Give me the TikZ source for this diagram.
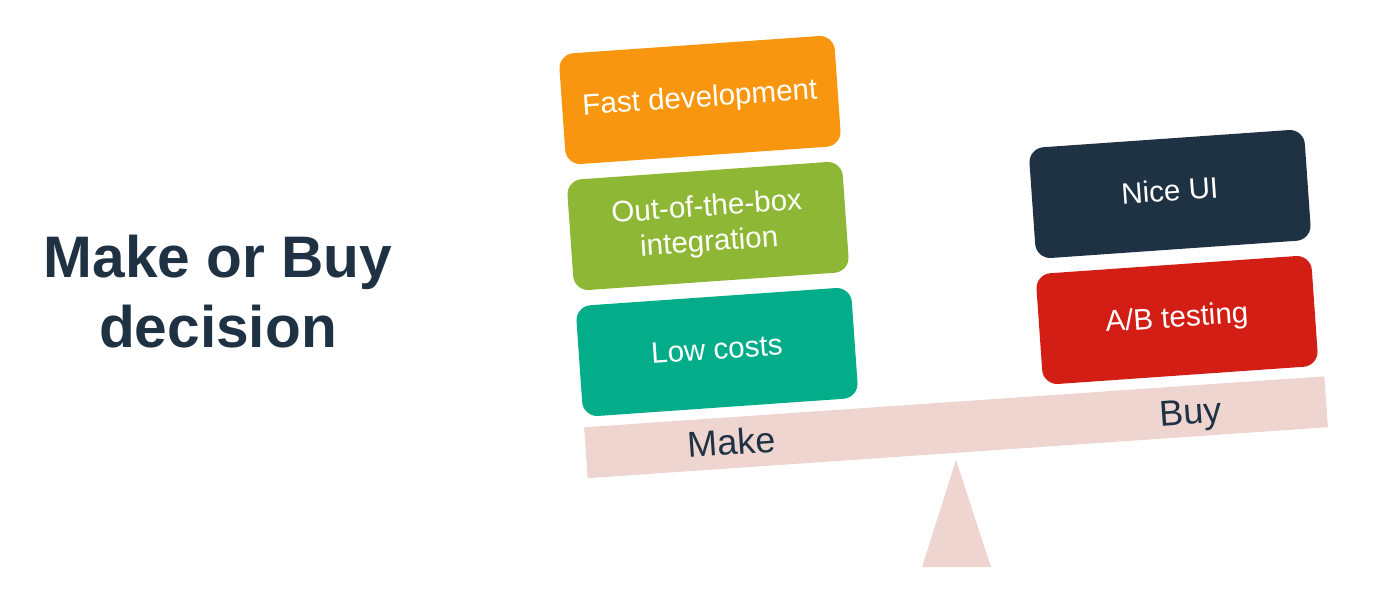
\documentclass[tikz,border=0pt]{standalone}
\usepackage{fontspec}
\setmainfont{Liberation Sans}
\definecolor{navy}{HTML}{1F3243}
\definecolor{cardorange}{HTML}{F9960F}
\definecolor{cardgreen}{HTML}{8DB734}
\definecolor{cardteal}{HTML}{03AD8A}
\definecolor{cardred}{HTML}{D31E15}
\definecolor{beamcol}{HTML}{EED5D0}
\begin{document}
\begin{tikzpicture}[x=0.5pt,y=-0.5pt,
  card/.style={rounded corners=7.5pt, minimum width=138pt, minimum height=55.5pt,
    rotate=4, text=white, inner sep=0pt, align=center,
    font=\fontsize{14.8}{17.6}\selectfont},
  oneline/.style={text height=12.3pt, text depth=5.3pt},
  side/.style={rotate=3.94, text=navy, inner sep=0pt,
    text height=13pt, text depth=0pt, font=\fontsize{18}{21}\selectfont}]
\useasboundingbox (0,0) rectangle (1400,603);
% title
\node[text=navy, align=center, inner sep=0pt,
  font=\fontsize{29.3}{35}\selectfont\bfseries] (title) at (218,292) {Make or Buy\\decision};
% fulcrum
\coordinate (apex) at (956,460);
\coordinate (baseL) at (922,567);
\coordinate (baseR) at (991,567);
\fill[beamcol] (apex) -- (baseL) -- (baseR) -- cycle;
% beam
\node[fill=beamcol, minimum width=371pt, minimum height=25.5pt, rotate=3.94, inner sep=0pt] (beam) at (956,427.25) {};
\node[side] (make) at (732,442) {Make};
\node[side] (buy) at (1191,411) {Buy};
% left cards
\node[card, oneline, fill=cardorange] (fast) at (700,100) {Fast development};
\node[card, fill=cardgreen] (oob) at (708,226) {Out-of-the-box\\integration};
\node[card, oneline, fill=cardteal] (low) at (717,352) {Low costs};
% right cards
\node[card, oneline, fill=navy] (nice) at (1170,194) {Nice UI};
\node[card, oneline, fill=cardred] (ab) at (1177,320) {A/B testing};
\end{tikzpicture}
\end{document}
